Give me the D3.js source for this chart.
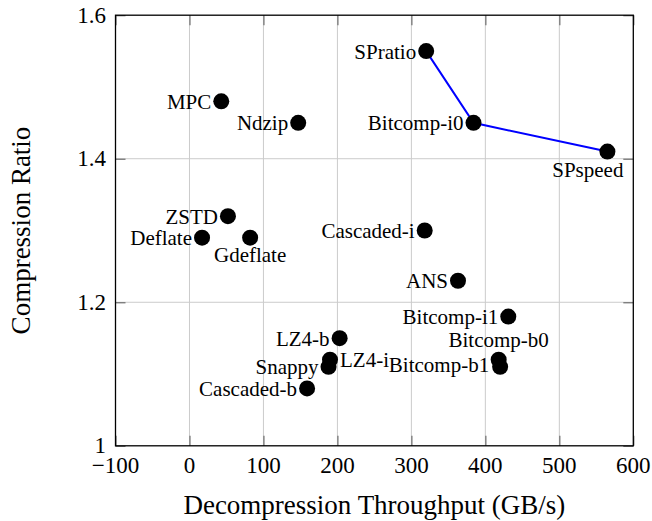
<!DOCTYPE html>
<html>
<head>
<meta charset="utf-8">
<script src="https://cdn.jsdelivr.net/npm/d3@7"></script>
<style>
  html, body { margin: 0; padding: 0; background: #fff; }
  svg { display: block; font-family: "Liberation Serif", "DejaVu Serif", serif; }
</style>
</head>
<body>
<svg id="chart" width="652" height="521"></svg>
<script>
// Compressors: decompression throughput (GB/s) vs. compression ratio
const methods = ["MPC", "Ndzip", "SPratio", "Bitcomp-i0", "SPspeed", "ZSTD", "Deflate",
  "Gdeflate", "Cascaded-i", "ANS", "Bitcomp-i1", "Bitcomp-b0", "Bitcomp-b1", "LZ4-b",
  "LZ4-i", "Snappy", "Cascaded-b"];
const throughput = [43, 147, 320, 384, 565, 52, 17, 82, 318, 363, 431, 418, 420, 203, 190, 188, 159];
const ratio = [1.48, 1.45, 1.55, 1.45, 1.41, 1.32, 1.29, 1.29, 1.30, 1.23, 1.18, 1.12, 1.11, 1.15, 1.12, 1.11, 1.08];

// Pareto frontier connecting the SP variants through Bitcomp-i0
const frontier = ["SPratio", "Bitcomp-i0", "SPspeed"];

const xTicks = [-100, 0, 100, 200, 300, 400, 500, 600];
const yTicks = [1, 1.2, 1.4, 1.6];
const yTickLabels = ["1", "1.2", "1.4", "1.6"];

const xTitle = "Decompression Throughput (GB/s)";
const yTitle = "Compression Ratio";

const points = methods.map((name, i) => ({ name, x: throughput[i], y: ratio[i] }));

const svg = d3.select("#chart");
const plotL = 115.5, plotR = 633.3, plotT = 15.2, plotB = 445.8;

const x = d3.scaleLinear().domain([-100, 600]).range([plotL, plotR]);
const y = d3.scaleLinear().domain([1, 1.6]).range([plotB, plotT]);

// grid
const grid = svg.append("g").attr("stroke", "#cbcbcb").attr("stroke-width", 1);
grid.selectAll("line.vx").data(xTicks.slice(1, -1)).join("line")
  .attr("x1", d => x(d)).attr("x2", d => x(d)).attr("y1", plotT).attr("y2", plotB);
grid.selectAll("line.hy").data(yTicks.slice(1, -1)).join("line")
  .attr("x1", plotL).attr("x2", plotR).attr("y1", d => y(d)).attr("y2", d => y(d));

// inward ticks on all four sides
const tickLen = 10;
const tickColor = "#6e6e6e";
const addAxis = (axisFn, transform) => {
  const g = svg.append("g").attr("transform", transform).call(axisFn);
  g.select(".domain").remove();
  g.selectAll(".tick line").attr("stroke", tickColor).attr("stroke-width", 1.2);
  g.selectAll(".tick text").remove();
  return g;
};
addAxis(d3.axisBottom(x).tickValues(xTicks).tickSize(-tickLen), `translate(0,${plotB})`);
addAxis(d3.axisTop(x).tickValues(xTicks).tickSize(-tickLen), `translate(0,${plotT})`);
addAxis(d3.axisLeft(y).tickValues(yTicks).tickSize(-tickLen), `translate(${plotL},0)`);
addAxis(d3.axisRight(y).tickValues(yTicks).tickSize(-tickLen), `translate(${plotR},0)`);

// tick labels
const fmtX = d3.format("");
svg.append("g").selectAll("text").data(xTicks).join("text")
  .attr("x", d => x(d)).attr("y", 473)
  .attr("text-anchor", "middle").attr("font-size", 23).attr("fill", "#000")
  .text(d => fmtX(d));
svg.append("g").selectAll("text").data(yTicks).join("text")
  .attr("x", plotL - 9.5).attr("y", d => y(d) + 7.5)
  .attr("text-anchor", "end").attr("font-size", 23).attr("fill", "#000")
  .text((d, i) => yTickLabels[i]);

// frame
svg.append("rect").attr("x", plotL).attr("y", plotT)
  .attr("width", plotR - plotL).attr("height", plotB - plotT)
  .attr("fill", "none").attr("stroke", "#000").attr("stroke-width", 1.3);

// axis titles
svg.append("text").attr("x", (plotL + plotR) / 2).attr("y", 514)
  .attr("text-anchor", "middle").attr("font-size", 27).text(xTitle);
svg.append("text")
  .attr("transform", `translate(30,${(plotT + plotB) / 2}) rotate(-90)`)
  .attr("text-anchor", "middle").attr("font-size", 27).text(yTitle);

// frontier line
const byName = new Map(points.map(p => [p.name, p]));
svg.append("path")
  .datum(frontier.map(n => byName.get(n)))
  .attr("fill", "none").attr("stroke", "#0000ff").attr("stroke-width", 2)
  .attr("d", d3.line().x(d => x(d.x)).y(d => y(d.y)));

// markers
svg.append("g").selectAll("circle").data(points).join("circle")
  .attr("cx", d => x(d.x)).attr("cy", d => y(d.y)).attr("r", 8).attr("fill", "#000");

// label placement around each marker (default: left of the marker)
const placement = {
  "Gdeflate": { anchor: "middle", dx: 0, dy: 24 },
  "SPspeed": { anchor: "end", dx: 16, dy: 25 },
  "Bitcomp-b0": { anchor: "middle", dx: 0, dy: -13 },
  "LZ4-i": { anchor: "start", dx: 10, dy: 7 },
  "Bitcomp-b1": { anchor: "end", dx: -11, dy: 5 }
};
const defaultPlacement = { anchor: "end", dx: -10, dy: 7.5 };

svg.append("g").selectAll("text").data(points).join("text")
  .each(function (d) {
    const p = placement[d.name] || defaultPlacement;
    d3.select(this)
      .attr("x", x(d.x) + p.dx).attr("y", y(d.y) + p.dy)
      .attr("text-anchor", p.anchor);
  })
  .attr("font-size", 21).attr("fill", "#000")
  .text(d => d.name);
</script>
</body>
</html>
